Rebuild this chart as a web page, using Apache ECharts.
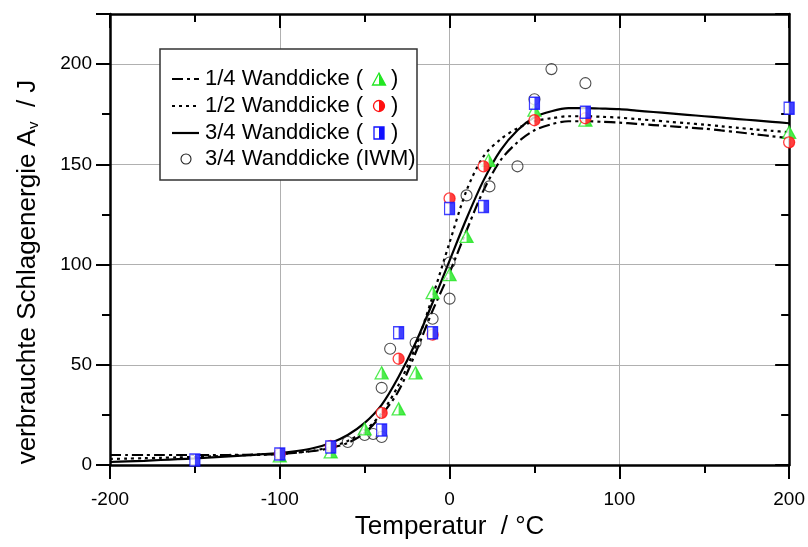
<!DOCTYPE html>
<html><head><meta charset="utf-8">
<script src="https://cdn.jsdelivr.net/npm/echarts@6/dist/echarts.min.js"></script>
<style>html,body{margin:0;padding:0;background:#fff}#c{width:808px;height:547px}</style>
</head><body><div id="c"></div>
<script>
// ---- data ----
const curveX = [-200,-190,-180,-170,-160,-150,-140,-130,-120,-110,-100,-90,-80,-70,-60,-50,-40,-30,-20,-10,
                0,10,20,30,40,50,60,70,80,90,100,110,120,130,140,150,160,170,180,190,200];
const fit14 = [5,5,5,5,5,5,5,5,5.1,5.2,5.5,6.2,7,8.5,11,16,25,37,56,77,
               96,117,137,152,161,167,170,171.5,171.5,171.2,170.8,170.2,169.6,169,168.4,167.8,166.9,166,165,164,163];
const fit12 = [3,3.2,3.4,3.6,3.8,4,4.3,4.6,4.9,5.2,5.5,6.2,7.2,9,12,17,26,40,59,84,
               111,137,154,162.5,168,171.5,173,174,174,173.7,173.3,172.6,171.9,171.2,170.5,169.8,169,168.2,167.4,166.7,166];
const fit34 = [1.5,1.8,2.1,2.5,2.9,3.3,3.8,4.3,4.8,5.4,6,7,8.5,11,15,21,30,44,61,81,
               102,123,142,157,167,173.5,176.5,178,178,177.8,177.5,176.8,176.1,175.4,174.7,174,173.3,172.6,171.9,171.2,170.5];

const q14X = [-100,-70,-50,-40,-30,-20,-10,0,10,23,50,80,200];
const q14Y = [4.5,6.5,18,46,28,46,86,95,114,152,177,172,166];
const h12X = [-100,-70,-40,-30,-10,0,20,50,80,200];
const h12Y = [5.5,9.5,26,53,65,133,149,172,173,161];
const q34X = [-150,-100,-70,-40,-30,-10,0,20,50,80,200];
const q34Y = [2.5,5.5,9,17.5,66,66,128,129,180.5,176,178];
const iwmX = [-60,-50,-45,-40,-40,-35,-20,-10,0,0,10,23.5,40,50,60,80];
const iwmY = [11.5,15,15.5,14,38.5,58,61,73,83,101,134.5,139,149,182.5,197.5,190.5];

const legendLabels = ['1/4 Wanddicke (', '1/2 Wanddicke (', '3/4 Wanddicke (', '3/4 Wanddicke (IWM)'];
const xTitle = 'Temperatur  / °C';

// ---- build ----
const FONT = '"Liberation Sans", Arial, sans-serif';
const zip = (a, b) => a.map((v, i) => [v, b[i]]);
const GREEN = '#22e622', RED = '#ff1010', BLUE = '#1010ff';

function lineSeries(ys, dash) {
  return { type: 'line', data: zip(curveX, ys), smooth: 0.3, symbol: 'none',
    lineStyle: { color: '#000', width: 2.2, type: dash }, z: 2, silent: true, animation: false };
}
function halfPair(xs, ys, base, half, size, color) {
  const d = zip(xs, ys);
  return [
    { type: 'scatter', data: d, symbol: base, symbolSize: size, z: 3, silent: true, animation: false,
      itemStyle: { color: '#fff', borderColor: color, borderWidth: 1.3 } },
    { type: 'scatter', data: d, symbol: half, symbolSize: size, z: 3, silent: true, animation: false,
      itemStyle: { color: color, borderWidth: 0 } }
  ];
}

const series = [
  lineSeries(fit14, [11, 4, 3, 4]),
  lineSeries(fit12, [3, 4]),
  lineSeries(fit34, 'solid'),
  { type: 'scatter', data: zip(iwmX, iwmY), symbol: 'circle', symbolSize: 11, z: 3, silent: true, animation: false,
    itemStyle: { color: 'rgba(255,255,255,0)', borderColor: '#222', borderWidth: 1.1 } },
  ...halfPair(q14X, q14Y, 'triangle', 'path://M0,20 M10,0 L20,20 L10,20 Z', [13, 12], GREEN),
  ...halfPair(h12X, h12Y, 'circle', 'path://M0,10 M10,0 A10,10 0 0,1 10,20 Z', 11, RED),
  ...halfPair(q34X, q34Y, 'rect', 'path://M0,0 M10,0 L20,0 L20,20 L10,20 Z', [10, 12], BLUE)
];

const axLine = { show: true, onZero: false, lineStyle: { color: '#000', width: 2.5 } };
const noLine = { show: false, onZero: false };
const tickStyle = { color: '#000', width: 2 };
const grayGrid = { show: true, lineStyle: { color: '#b0b0b0', width: 1 } };

const option = {
  animation: false,
  backgroundColor: '#fff',
  grid: { left: 110, right: 17, top: 14, bottom: 82, containLabel: false },
  xAxis: [
    { type: 'value', position: 'bottom', min: -200, max: 200, interval: 100,
      axisLine: axLine, axisTick: { show: true, length: 14, lineStyle: tickStyle },
      minorTick: { show: true, splitNumber: 2, length: 8, lineStyle: tickStyle },
      axisLabel: { fontSize: 19, color: '#000', fontFamily: FONT, margin: 25 },
      splitLine: grayGrid,
      name: xTitle, nameLocation: 'middle', nameGap: 48,
      nameTextStyle: { fontSize: 26, color: '#000', fontFamily: FONT } },
    { type: 'value', position: 'top', min: -200, max: 200, interval: 100,
      axisLine: axLine, axisTick: { show: true, inside: true, length: 14, lineStyle: tickStyle },
      minorTick: { show: true, splitNumber: 2, length: 8, lineStyle: tickStyle },
      axisLabel: { show: false }, splitLine: { show: false } }
  ],
  yAxis: [
    { type: 'value', position: 'left', min: 0, max: 225, interval: 50,
      axisLine: axLine, axisTick: { show: true, length: 14, lineStyle: tickStyle },
      axisLabel: { fontSize: 19, color: '#000', fontFamily: FONT, margin: 18,
        formatter: v => (v > 200 ? '' : String(v)) },
      splitLine: grayGrid },
    { type: 'value', position: 'left', min: 0, max: 225, interval: 25,
      axisLine: noLine, axisTick: { show: true, length: 8, lineStyle: tickStyle },
      axisLabel: { show: false }, splitLine: { show: false } },
    { type: 'value', position: 'right', min: 0, max: 225, interval: 50,
      axisLine: axLine, axisTick: { show: true, inside: true, length: 14, lineStyle: tickStyle },
      axisLabel: { show: false }, splitLine: { show: false } },
    { type: 'value', position: 'right', min: 0, max: 225, interval: 25,
      axisLine: noLine, axisTick: { show: true, inside: true, length: 8, lineStyle: tickStyle },
      axisLabel: { show: false }, splitLine: { show: false } }
  ],
  series: series,
  graphic: []
};

// legend box
const rowY = [79, 106, 133, 159];
const g = option.graphic;
g.push({ type: 'rect', z: 100, shape: { x: 160, y: 49, width: 257, height: 131 },
  style: { fill: '#fff', stroke: '#333', lineWidth: 1.5 } });
const dashes = [[11, 4, 3, 4], [3, 4], null];
for (let i = 0; i < 3; i++) {
  g.push({ type: 'line', z: 101, shape: { x1: 172, y1: rowY[i], x2: 199, y2: rowY[i] },
    style: { stroke: '#000', lineWidth: 2.2, lineDash: dashes[i] } });
}
g.push({ type: 'circle', z: 101, shape: { cx: 186, cy: rowY[3], r: 5 },
  style: { fill: '#fff', stroke: '#222', lineWidth: 1.1 } });
for (let i = 0; i < 4; i++) {
  g.push({ type: 'text', z: 101, x: 205, y: rowY[i],
    style: { text: legendLabels[i], fontSize: 22, fontFamily: FONT, fill: '#000', verticalAlign: 'middle', align: 'left' } });
  if (i < 3) g.push({ type: 'text', z: 101, x: 391, y: rowY[i],
    style: { text: ')', fontSize: 22, fontFamily: FONT, fill: '#000', verticalAlign: 'middle', align: 'left' } });
}
const mx = 379;
// triangle
g.push({ type: 'polygon', z: 102, shape: { points: [[mx, rowY[0]-6], [mx+6.5, rowY[0]+6], [mx-6.5, rowY[0]+6]] },
  style: { fill: '#fff', stroke: GREEN, lineWidth: 1.3 } });
g.push({ type: 'polygon', z: 103, shape: { points: [[mx, rowY[0]-6], [mx+6.5, rowY[0]+6], [mx, rowY[0]+6]] },
  style: { fill: GREEN } });
// half circle
g.push({ type: 'circle', z: 102, shape: { cx: mx, cy: rowY[1], r: 5.5 },
  style: { fill: '#fff', stroke: RED, lineWidth: 1.3 } });
g.push({ type: 'sector', z: 103, shape: { cx: mx, cy: rowY[1], r: 5.5, r0: 0, startAngle: -Math.PI/2, endAngle: Math.PI/2 },
  style: { fill: RED } });
// half square
g.push({ type: 'rect', z: 102, shape: { x: mx-5, y: rowY[2]-6, width: 10, height: 12 },
  style: { fill: '#fff', stroke: BLUE, lineWidth: 1.3 } });
g.push({ type: 'rect', z: 103, shape: { x: mx, y: rowY[2]-6, width: 5, height: 12 },
  style: { fill: BLUE } });

// y axis title
g.push({ type: 'text', z: 100, x: 28, y: 272, rotation: Math.PI / 2,
  style: { text: '{a|verbrauchte Schlagenergie A}{s|v}{a|  / J}', align: 'center', verticalAlign: 'middle',
    rich: { a: { fontSize: 26, fontFamily: FONT, fill: '#000' },
            s: { fontSize: 15, fontFamily: FONT, fill: '#000', verticalAlign: 'bottom' } } } });

const chart = echarts.init(document.getElementById('c'), null, { renderer: 'canvas' });
chart.setOption(option);
</script>
</body></html>
